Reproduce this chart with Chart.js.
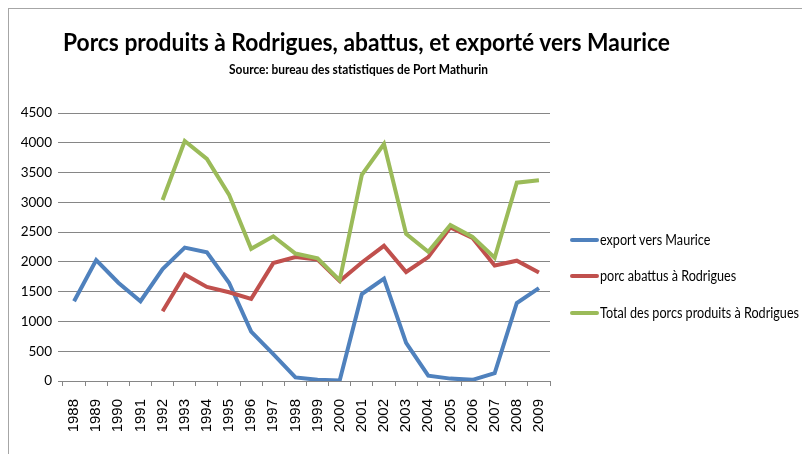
<!DOCTYPE html>
<html><head><meta charset="utf-8">
<script src="https://cdn.jsdelivr.net/npm/chart.js@4/dist/chart.umd.min.js"></script>
<style>
html,body{margin:0;padding:0;background:#fff;}
#wrap{position:relative;width:802px;height:454px;overflow:hidden;background:#fff;}
#frame{position:absolute;left:8px;top:8px;width:800px;height:460px;border-left:1px solid #a6a6a6;border-top:1px solid #a6a6a6;}
#c{position:absolute;left:0;top:0;}
.t{position:absolute;white-space:nowrap;color:#000;font-family:Lato,"Open Sans",sans-serif;line-height:1;transform-origin:0 0;}
#title{left:63px;top:29px;font-size:25px;font-weight:bold;}
#sub{left:229px;top:64px;font-size:12.5px;font-weight:bold;}
.lgl{position:absolute;left:570px;width:29px;height:4px;border-radius:2px;}
.lgt{font-size:14.5px;left:600px;}
</style></head>
<body><div id="wrap">
<div id="frame"></div>
<canvas id="c" width="802" height="454"></canvas>
<div class="t" id="title" data-w="607">Porcs produits à Rodrigues, abattus, et exporté vers Maurice</div>
<div class="t" id="sub" data-w="259">Source: bureau des statistiques de Port Mathurin</div>
<div id="legend"></div>
</div>
<script>
const years = ["1988","1989","1990","1991","1992","1993","1994","1995","1996","1997","1998","1999","2000","2001","2002","2003","2004","2005","2006","2007","2008","2009"];
const exportMaurice = [1340,2030,1650,1340,1880,2240,2160,1650,830,450,60,20,10,1460,1720,640,90,40,20,130,1310,1560];
const abattus = [null,null,null,null,1170,1790,1580,1490,1380,1980,2080,2040,1680,1990,2270,1830,2080,2580,2400,1940,2020,1820];
const totalProduits = [null,null,null,null,3040,4030,3730,3130,2220,2430,2140,2060,1690,3460,3980,2470,2170,2620,2420,2070,3330,3370];
const seriesNames = ["export vers Maurice","porc abattus à Rodrigues","Total des porcs produits à Rodrigues"];
const colors = ["#4F81BD","#C0504D","#9BBB59"];
const yTicks = [0,500,1000,1500,2000,2500,3000,3500,4000,4500];

document.querySelectorAll('[data-w]').forEach(el=>{
  const w = el.getBoundingClientRect().width;
  el.style.transform='scaleX('+(parseFloat(el.dataset.w)/w)+')';
});

const lg = document.getElementById('legend');
const lgLineY = [240, 276, 313];
const texts = [];
seriesNames.forEach((n,i)=>{
  const l = document.createElement('div');
  l.className='lgl'; l.style.top=(lgLineY[i]-2)+'px'; l.style.background=colors[i];
  lg.appendChild(l);
  const t = document.createElement('div');
  t.className='t lgt'; t.textContent=n;
  t.style.top=(lgLineY[i]+6-12.9)+'px';
  lg.appendChild(t);
  texts.push(t);
});
const lgScale = 199 / texts[2].getBoundingClientRect().width;
texts.forEach(t => { t.style.transform = 'scaleX(' + lgScale + ')'; });

const ds = [exportMaurice, abattus, totalProduits].map((arr,i)=>({
  label: seriesNames[i], data: arr, borderColor: colors[i], backgroundColor: colors[i],
  borderWidth: 4, pointRadius: 0, tension: 0, spanGaps: false, order: 2-i
}));

new Chart(document.getElementById('c'), {
  type: 'line',
  data: { labels: years, datasets: ds },
  options: {
    responsive: false, animation: false,
    layout: { padding: { left: 0, top: 113, right: 252, bottom: 0 } },
    plugins: { legend: { display: false }, title: { display: false }, tooltip: { enabled: false } },
    scales: {
      x: {
        offset: true,
        grid: { offset: true, drawOnChartArea: false, drawTicks: true, tickLength: 5, color: '#868686' },
        border: { display: true, color: '#868686' },
        ticks: { minRotation: 90, maxRotation: 90, padding: 13, color: '#000',
          font: { family: '"Liberation Sans", Arial, sans-serif', size: 15 } },
        afterFit: s => { s.height = 73; }
      },
      y: {
        min: 0, max: 4500,
        afterBuildTicks: s => { s.ticks = yTicks.map(v => ({ value: v })); },
        grid: { color: '#868686', tickLength: 5 },
        border: { display: false },
        ticks: { padding: 6, color: '#000', callback: v => String(v),
          font: { family: 'Lato, sans-serif', size: 13.5 } },
        afterFit: s => { s.width = 63; }
      }
    }
  }
});
</script>
</body></html>
